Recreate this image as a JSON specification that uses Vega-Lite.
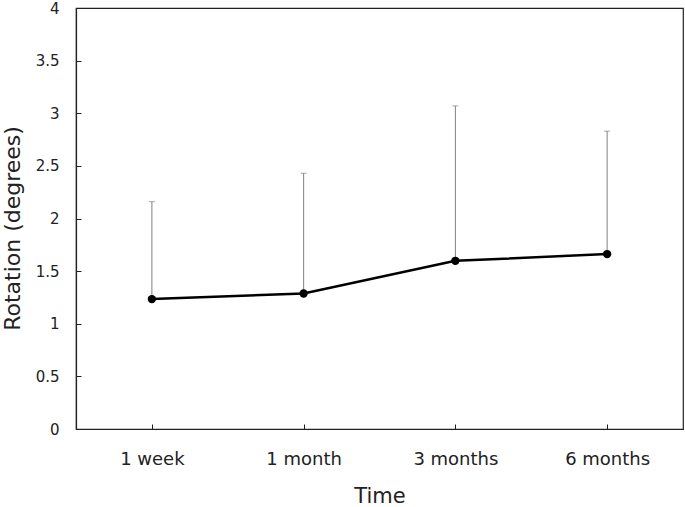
{
  "$schema": "https://vega.github.io/schema/vega-lite/v6.json",
  "width": 607,
  "height": 421,
  "autosize": {"type": "none"},
  "padding": {"left": 76, "top": 8, "right": 2, "bottom": 78},
  "background": "white",
  "config": {
    "view": {"stroke": "#222", "strokeWidth": 1.2},
    "font": "DejaVu Sans",
    "axis": {
      "grid": false,
      "domainColor": "#222",
      "domainWidth": 1.2,
      "tickColor": "#222",
      "tickWidth": 1,
      "labelColor": "#222",
      "titleColor": "#222",
      "labelFont": "DejaVu Sans",
      "titleFont": "DejaVu Sans",
      "titleFontWeight": "normal"
    }
  },
  "data": {
    "values": [
      {"time": "1 week", "mean": 1.234, "upper": 2.16},
      {"time": "1 month", "mean": 1.287, "upper": 2.43},
      {"time": "3 months", "mean": 1.598, "upper": 3.07},
      {"time": "6 months", "mean": 1.662, "upper": 2.83}
    ]
  },
  "encoding": {
    "x": {
      "field": "time",
      "type": "ordinal",
      "sort": null,
      "scale": {"type": "point", "padding": 0.5},
      "axis": {"title": "Time", "labelAngle": 0, "tickSize": -5, "labelPadding": 26, "labelFontSize": 18, "titleFontSize": 21, "titlePadding": 17}
    }
  },
  "layer": [
    {
      "mark": {"type": "rule", "color": "#808080", "strokeWidth": 1},
      "encoding": {
        "y": {
          "field": "mean",
          "type": "quantitative",
          "scale": {"domain": [0, 4]},
          "axis": {"title": "Rotation (degrees)", "values": [0, 0.5, 1, 1.5, 2, 2.5, 3, 3.5, 4], "format": "~g", "tickSize": -5, "labelPadding": 22, "labelFontSize": 15, "titleFontSize": 22, "titlePadding": 11, "titleY": 220}
        },
        "y2": {"field": "upper"}
      }
    },
    {
      "mark": {"type": "tick", "color": "#808080", "thickness": 1, "size": 6, "orient": "horizontal"},
      "encoding": {"y": {"field": "upper", "type": "quantitative"}}
    },
    {
      "mark": {"type": "line", "color": "black", "strokeWidth": 2.5},
      "encoding": {"y": {"field": "mean", "type": "quantitative"}}
    },
    {
      "mark": {"type": "point", "filled": true, "color": "black", "size": 70, "opacity": 1},
      "encoding": {"y": {"field": "mean", "type": "quantitative"}}
    }
  ]
}
